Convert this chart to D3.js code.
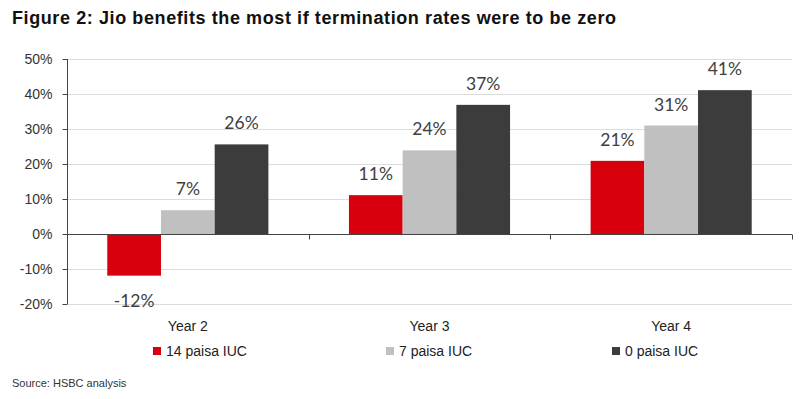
<!DOCTYPE html>
<html>
<head>
<meta charset="utf-8">
<script src="https://cdnjs.cloudflare.com/ajax/libs/d3/7.8.5/d3.min.js"></script>
<style>
  html, body { margin: 0; padding: 0; background: #fff; }
  svg { display: block; }
</style>
</head>
<body>
<script>
// data
const years = ["Year 2", "Year 3", "Year 4"];
const seriesNames = ["14 paisa IUC", "7 paisa IUC", "0 paisa IUC"];
const iuc14 = [-11.9, 11.1, 20.9];
const iuc7 = [6.8, 23.9, 31.0];
const iuc0 = [25.6, 36.9, 41.1];
const labels14 = ["-12%", "11%", "21%"];
const labels7 = ["7%", "24%", "31%"];
const labels0 = ["26%", "37%", "41%"];
const yTicks = [-20, -10, 0, 10, 20, 30, 40, 50];

const colors = ["#d9000d", "#c0c0c0", "#3c3c3c"];
const series = [iuc14, iuc7, iuc0];
const seriesLabels = [labels14, labels7, labels0];

const W = 803, H = 399;
const plot = { left: 67, right: 792, top: 59, bottom: 304 };

const svg = d3.select("body").append("svg")
  .attr("width", W)
  .attr("height", H)
  .style("font-family", "'Liberation Sans', Arial, sans-serif");

// title (stretched a bit to match the original width)
svg.append("text")
  .attr("x", 12)
  .attr("y", 24)
  .attr("font-size", 18)
  .attr("font-weight", "bold")
  .attr("fill", "#111")
  .attr("textLength", 604)
  .attr("lengthAdjust", "spacing")
  .text("Figure 2: Jio benefits the most if termination rates were to be zero");

/* scales */
const y = d3.scaleLinear().domain([-20, 50]).range([plot.bottom, plot.top]);
const x0 = d3.scaleBand().domain(years).range([plot.left, plot.right]).padding(0);
const bw = x0.bandwidth();
const x1 = d3.scaleBand().domain(d3.range(3)).range([bw / 6, bw * 5 / 6]).padding(0);

// gridlines
svg.append("g")
  .selectAll("line")
  .data(yTicks.filter(d => d !== 0))
  .join("line")
  .attr("x1", plot.left)
  .attr("x2", plot.right)
  .attr("y1", d => Math.round(y(d)) + 0.5)
  .attr("y2", d => Math.round(y(d)) + 0.5)
  .attr("stroke", "#dcdcdc")
  .attr("stroke-width", 1);

// y axis
const yAxis = d3.axisLeft(y)
  .tickValues(yTicks)
  .tickFormat(d => d + "%")
  .tickSize(5)
  .tickPadding(10);

const gy = svg.append("g")
  .attr("transform", `translate(${plot.left + 0.5},0)`)
  .call(yAxis);
gy.select(".domain").attr("stroke", "#444").attr("d", `M0,${plot.top}V${plot.bottom}`);
gy.selectAll(".tick line").attr("stroke", "#444");
gy.selectAll(".tick text")
  .attr("font-size", 14)
  .attr("fill", "#333")
  .attr("font-family", "'Liberation Sans', Arial, sans-serif");

// bars
const groups = svg.append("g")
  .selectAll("g")
  .data(years)
  .join("g")
  .attr("transform", d => `translate(${x0(d)},0)`);

groups.selectAll("rect")
  .data((d, i) => series.map((s, k) => ({ k, v: s[i], label: seriesLabels[k][i] })))
  .join("rect")
  .attr("x", d => x1(d.k))
  .attr("width", x1.bandwidth())
  .attr("y", d => y(Math.max(0, d.v)))
  .attr("height", d => Math.abs(y(d.v) - y(0)))
  .attr("fill", d => colors[d.k]);

// data labels
groups.selectAll("text")
  .data((d, i) => series.map((s, k) => ({ k, v: s[i], label: seriesLabels[k][i] })))
  .join("text")
  .attr("x", d => x1(d.k) + x1.bandwidth() / 2)
  .attr("y", d => d.v >= 0 ? y(d.v) - 15 : y(d.v) + 31)
  .attr("text-anchor", "middle")
  .attr("font-family", "Lato, 'Open Sans', sans-serif")
  .attr("font-size", 17.5)
  .attr("fill", "#404040")
  .text(d => d.label);

// zero axis line with category ticks
const gx = svg.append("g")
  .attr("transform", `translate(0,${Math.round(y(0)) + 0.5})`)
  .call(d3.axisBottom(x0).tickValues([]).tickSizeOuter(0));
gx.select(".domain").attr("stroke", "#444").attr("d", `M${plot.left},0H${plot.right}`);
gx.selectAll(".sep")
  .data(years)
  .join("line")
  .attr("class", "sep")
  .attr("x1", d => Math.round(x0(d) + bw) + 0.5)
  .attr("x2", d => Math.round(x0(d) + bw) + 0.5)
  .attr("y1", 0)
  .attr("y2", 5)
  .attr("stroke", "#444");

// category labels
svg.append("g")
  .selectAll("text")
  .data(years)
  .join("text")
  .attr("x", d => x0(d) + bw / 2)
  .attr("y", 331)
  .attr("text-anchor", "middle")
  .attr("font-size", 14)
  .attr("fill", "#222")
  .text(d => d);

// legend
const legendX = [153, 386, 612];
const legend = svg.append("g")
  .selectAll("g")
  .data(seriesNames)
  .join("g")
  .attr("transform", (d, i) => `translate(${legendX[i]},347)`);
legend.append("rect")
  .attr("width", 8)
  .attr("height", 8)
  .attr("fill", (d, i) => colors[i]);
legend.append("text")
  .attr("x", 13)
  .attr("y", 9)
  .attr("font-size", 14)
  .attr("fill", "#222")
  .text(d => d);

// source
svg.append("text")
  .attr("x", 12)
  .attr("y", 387)
  .attr("font-size", 11)
  .attr("fill", "#333")
  .text("Source: HSBC analysis");
</script>
</body>
</html>
